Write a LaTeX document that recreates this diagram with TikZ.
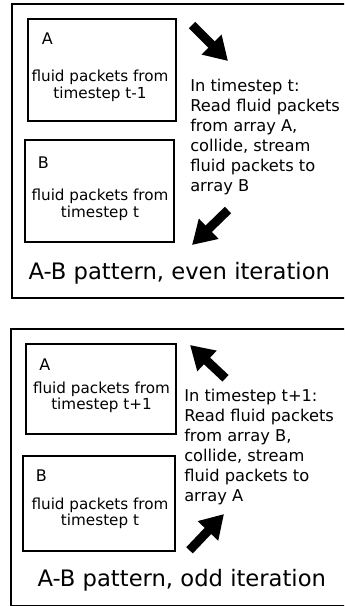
\documentclass[tikz,border=0pt]{standalone}
\usepackage{fontspec}
\setmainfont{DejaVu Sans}
\usepackage{tikz}
\usetikzlibrary{positioning, arrows.meta}

\begin{document}
\begin{tikzpicture}[
    x=0.75pt, y=-0.75pt,
    panel/.style={rectangle, draw=black, line width=1.5pt, inner sep=0pt, outer sep=0pt, anchor=north west, minimum width=255pt},
    arraybox/.style={rectangle, draw=black, line width=1.5pt, inner sep=0pt, outer sep=0pt, anchor=north west},
    letter/.style={inner sep=0pt, anchor=base west, font=\fontsize{12}{13}\selectfont},
    packets/.style={inner sep=0pt, align=center, anchor=north, font=\fontsize{11.4}{12.3}\selectfont},
    steptext/.style={inner sep=0pt, align=left, anchor=north west, font=\fontsize{12.2}{15}\selectfont},
    caption/.style={inner sep=0pt, anchor=base west, font=\fontsize{17}{20}\selectfont},
    bigarrow/.style={line width=6.75pt, -{Triangle[length=17.5pt, width=20pt]}}
]
\useasboundingbox (0,0) rectangle (344,606);
\clip (0,0) rectangle (344,606);

\node[panel, minimum height=220.5pt] (even) at (12,4) {};
\node[arraybox, minimum width=111pt, minimum height=76.5pt] (evenA) at (28,19) {};
\node[arraybox, minimum width=111.75pt, minimum height=76.5pt] (evenB) at (25,140) {};
\node[letter] (evenAname) at (41.5,45) {A};
\node[packets] (evenAtext) at (100,70) {fluid packets from\\timestep t-1};
\node[letter] (evenBname) at (37.5,168.3) {B};
\node[packets] (evenBtext) at (100,189) {fluid packets from\\timestep t};
\node[steptext] (evenstep) at (190,79.3) {In timestep t:\\Read fluid packets\\from array A,\\collide, stream\\fluid packets to\\array B};
\node[caption] (evencaption) at (28.3,279.3) {A-B pattern, even iteration};
\coordinate (evenreadtail) at (192,25);
\coordinate (evenreadtip) at (228,61);
\coordinate (evenwritetail) at (228,210);
\coordinate (evenwritetip) at (192,245);
\draw[bigarrow] (evenreadtail) -- (evenreadtip);
\draw[bigarrow] (evenwritetail) -- (evenwritetip);

\node[panel, minimum height=207.75pt] (odd) at (11,329) {};
\node[arraybox, minimum width=112.5pt, minimum height=67.5pt] (oddA) at (26,344) {};
\node[arraybox, minimum width=114pt, minimum height=71.25pt] (oddB) at (23,456) {};
\node[letter] (oddAname) at (39,370.7) {A};
\node[packets] (oddAtext) at (101.5,381.5) {fluid packets from\\timestep t+1};
\node[letter] (oddBname) at (35.7,481.7) {B};
\node[packets] (oddBtext) at (100,497.5) {fluid packets from\\timestep t};
\node[steptext] (oddstep) at (184,389.3) {In timestep t+1:\\Read fluid packets\\from array B,\\collide, stream\\fluid packets to\\array A};
\node[caption] (oddcaption) at (37.3,586) {A-B pattern, odd iteration};
\coordinate (oddreadtail) at (189.5,550.3);
\coordinate (oddreadtip) at (224,514);
\coordinate (oddwritetail) at (225.5,378.3);
\coordinate (oddwritetip) at (190,345);
\draw[bigarrow] (oddreadtail) -- (oddreadtip);
\draw[bigarrow] (oddwritetail) -- (oddwritetip);
\end{tikzpicture}
\end{document}
